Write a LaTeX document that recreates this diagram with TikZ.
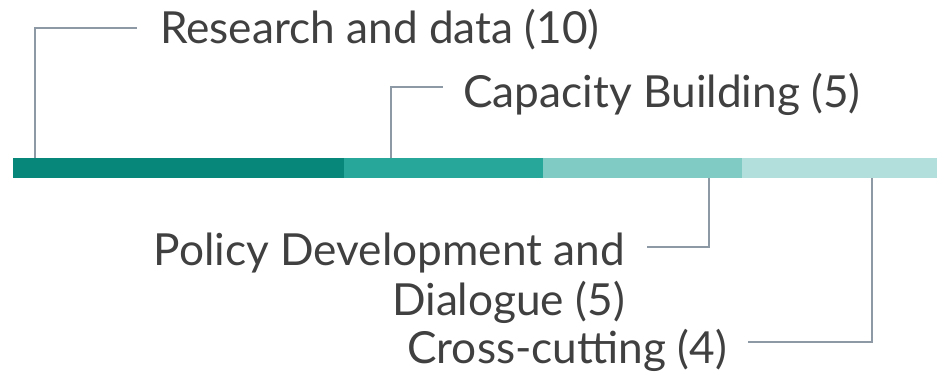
\documentclass[tikz,border=0pt]{standalone}
\usepackage{fontspec}
\setmainfont{Lato}
\usetikzlibrary{positioning,calc}
\definecolor{tealA}{HTML}{07877A}
\definecolor{tealB}{HTML}{27A79A}
\definecolor{tealC}{HTML}{80CBC3}
\definecolor{tealD}{HTML}{B2DFDB}
\definecolor{leadgray}{HTML}{8E99A6}
\definecolor{txtgray}{HTML}{404040}
\tikzset{
  barseg/.style = {rectangle, inner sep=0pt, outer sep=0pt,
    minimum height=20pt},% one piece of the bar
  lbl/.style = {inner sep=0pt, text=txtgray,
    font=\fontsize{44.2}{50}\selectfont},% theme label
  leader/.style = {draw=leadgray, line width=1.4pt}% bar to label
}

\begin{document}
\begin{tikzpicture}[x=1pt,y=-1pt]
\useasboundingbox (0,0) rectangle (937,376);
% the bar
\node [barseg, fill=tealA, minimum width=331pt, anchor=north west] (seg1) at (13,158) {};
\node [barseg, fill=tealB, minimum width=199pt, right=0pt of seg1] (seg2) {};
\node [barseg, fill=tealC, minimum width=199pt, right=0pt of seg2] (seg3) {};
\node [barseg, fill=tealD, minimum width=195pt, right=0pt of seg3] (seg4) {};
% where the leaders leave the bar
\coordinate (t1) at ($(seg1.north west)+(22,0)$);
\coordinate (t2) at ($(seg2.north west)+(47,0)$);
\coordinate (t3) at ($(seg3.south west)+(166,0)$);
\coordinate (t4) at ($(seg4.south west)+(130,0)$);
% labels
\node [lbl, anchor=base west] (research) at (160,43) {Research and data (10)};
\node [lbl, anchor=base west] (capacity) at (463,107) {Capacity Building (5)};
\node [lbl, anchor=base east] (policy) at (625,265) {Policy Development and};
\node [lbl, anchor=base east] (dialogue) at (625,315) {Dialogue (5)};
\node [lbl, anchor=base east] (cross) at (727,363) {Cross-cutting (4)};
% leaders
\draw [leader] (t1) |- ($(research.base west)+(-23,-15)$);
\draw [leader] (t2) |- ($(capacity.base west)+(-20,-20)$);
\draw [leader] (t3) |- ($(policy.base east)+(22,-18)$);
\draw [leader] (t4) |- ($(cross.base east)+(21,-21)$);
\end{tikzpicture}
\end{document}
